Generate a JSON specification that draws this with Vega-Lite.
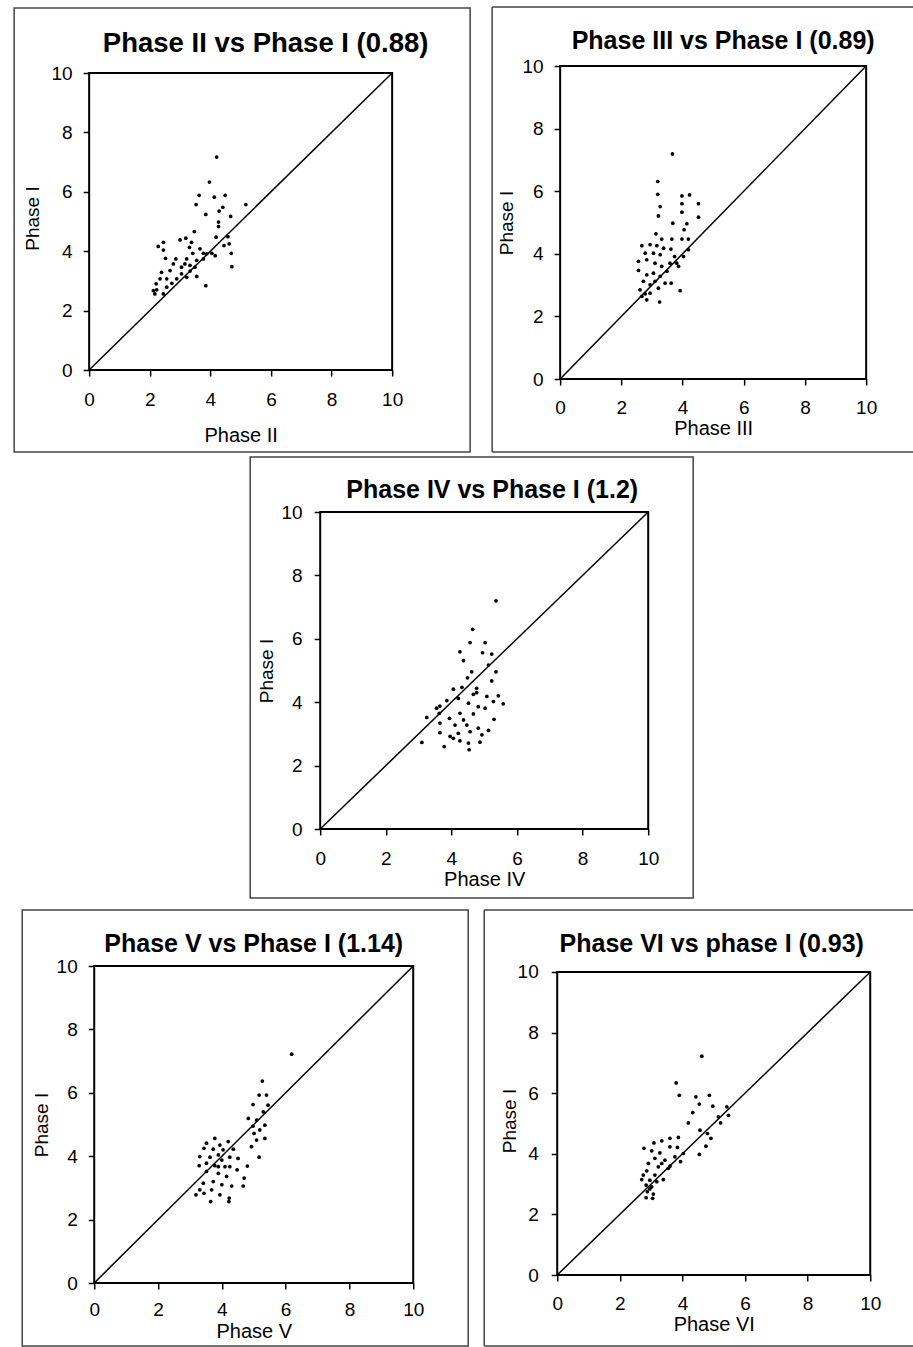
{
  "$schema": "https://vega.github.io/schema/vega-lite/v6.json",
  "padding": {"left": 13, "top": 5, "right": 0, "bottom": 0},
  "background": "white",
  "spacing": 1,
  "center": true,
  "datasets": {
    "p2": [{"x":4.21,"y":7.17},{"x":3.97,"y":6.33},{"x":3.63,"y":5.88},{"x":4.13,"y":5.82},{"x":4.49,"y":5.88},{"x":3.53,"y":5.57},{"x":5.17,"y":5.57},{"x":3.85,"y":5.24},{"x":4.41,"y":5.48},{"x":4.29,"y":5.35},{"x":4.67,"y":5.17},{"x":4.27,"y":4.98},{"x":4.27,"y":4.83},{"x":3.47,"y":4.66},{"x":4.19,"y":4.47},{"x":4.58,"y":4.49},{"x":4.62,"y":4.25},{"x":4.45,"y":4.19},{"x":4.69,"y":3.93},{"x":4.71,"y":3.48},{"x":3.85,"y":2.84},{"x":2.28,"y":4.16},{"x":2.45,"y":4.30},{"x":2.45,"y":4.04},{"x":2.52,"y":3.76},{"x":3.0,"y":4.38},{"x":3.19,"y":4.44},{"x":3.38,"y":4.30},{"x":3.31,"y":4.13},{"x":3.42,"y":3.93},{"x":3.66,"y":4.08},{"x":3.77,"y":3.93},{"x":4.05,"y":3.93},{"x":4.16,"y":3.85},{"x":3.22,"y":3.74},{"x":3.16,"y":3.57},{"x":3.05,"y":3.46},{"x":2.78,"y":3.57},{"x":2.86,"y":3.74},{"x":2.67,"y":3.35},{"x":2.39,"y":3.29},{"x":2.34,"y":3.07},{"x":2.21,"y":2.90},{"x":2.23,"y":2.70},{"x":2.45,"y":2.56},{"x":2.56,"y":2.79},{"x":2.73,"y":2.92},{"x":2.89,"y":3.07},{"x":3.05,"y":3.24},{"x":3.22,"y":3.12},{"x":3.33,"y":3.33},{"x":3.49,"y":3.46},{"x":3.55,"y":3.69},{"x":3.33,"y":3.52},{"x":2.56,"y":3.07},{"x":2.12,"y":2.67},{"x":2.17,"y":2.56},{"x":3.55,"y":3.15},{"x":3.77,"y":3.74},{"x":3.88,"y":3.91}],
    "p3": [{"x":3.67,"y":7.19},{"x":3.19,"y":6.31},{"x":3.19,"y":5.90},{"x":3.27,"y":5.51},{"x":3.21,"y":5.21},{"x":3.98,"y":5.85},{"x":4.23,"y":5.88},{"x":3.98,"y":5.60},{"x":3.98,"y":5.33},{"x":4.52,"y":5.60},{"x":4.52,"y":5.17},{"x":3.68,"y":4.98},{"x":4.14,"y":4.96},{"x":4.05,"y":4.77},{"x":3.13,"y":4.64},{"x":3.32,"y":4.47},{"x":3.65,"y":4.47},{"x":3.98,"y":4.47},{"x":4.19,"y":4.47},{"x":2.67,"y":4.26},{"x":2.94,"y":4.29},{"x":3.16,"y":4.26},{"x":3.38,"y":4.18},{"x":3.62,"y":4.15},{"x":2.78,"y":4.02},{"x":3.05,"y":4.02},{"x":3.27,"y":3.97},{"x":3.74,"y":3.91},{"x":4.03,"y":3.91},{"x":4.19,"y":4.13},{"x":2.56,"y":3.76},{"x":2.83,"y":3.81},{"x":3.10,"y":3.70},{"x":3.32,"y":3.60},{"x":3.59,"y":3.70},{"x":3.87,"y":3.60},{"x":2.56,"y":3.47},{"x":2.83,"y":3.33},{"x":3.05,"y":3.38},{"x":3.27,"y":3.28},{"x":3.43,"y":3.06},{"x":3.63,"y":3.06},{"x":2.72,"y":3.12},{"x":2.94,"y":3.01},{"x":3.21,"y":2.90},{"x":2.61,"y":2.85},{"x":2.78,"y":2.72},{"x":2.67,"y":2.64},{"x":2.83,"y":2.53},{"x":3.25,"y":2.46},{"x":3.92,"y":2.82},{"x":2.94,"y":2.74},{"x":3.10,"y":3.12},{"x":3.81,"y":3.70},{"x":3.49,"y":3.44}],
    "p4": [{"x":5.36,"y":7.20},{"x":4.65,"y":6.30},{"x":4.57,"y":5.88},{"x":5.03,"y":5.88},{"x":4.26,"y":5.59},{"x":4.95,"y":5.56},{"x":5.23,"y":5.52},{"x":4.37,"y":5.31},{"x":5.13,"y":5.17},{"x":4.62,"y":4.96},{"x":5.36,"y":4.96},{"x":4.49,"y":4.77},{"x":5.23,"y":4.67},{"x":4.06,"y":4.41},{"x":4.32,"y":4.47},{"x":4.77,"y":4.44},{"x":4.67,"y":4.25},{"x":5.08,"y":4.18},{"x":5.43,"y":4.20},{"x":5.58,"y":3.95},{"x":5.28,"y":4.02},{"x":3.65,"y":3.88},{"x":3.55,"y":3.81},{"x":3.86,"y":4.05},{"x":4.21,"y":4.12},{"x":4.52,"y":3.97},{"x":4.82,"y":3.86},{"x":5.03,"y":3.81},{"x":3.25,"y":3.52},{"x":3.63,"y":3.65},{"x":3.94,"y":3.49},{"x":4.26,"y":3.65},{"x":4.67,"y":3.63},{"x":5.30,"y":3.46},{"x":3.65,"y":3.34},{"x":4.11,"y":3.28},{"x":4.47,"y":3.28},{"x":4.82,"y":3.18},{"x":3.65,"y":3.04},{"x":3.96,"y":2.92},{"x":4.21,"y":3.02},{"x":4.57,"y":3.07},{"x":4.93,"y":2.97},{"x":5.13,"y":3.11},{"x":3.10,"y":2.73},{"x":3.78,"y":2.60},{"x":4.26,"y":2.78},{"x":4.52,"y":2.71},{"x":4.87,"y":2.74},{"x":4.54,"y":2.50},{"x":4.06,"y":2.86},{"x":4.37,"y":3.44},{"x":4.77,"y":4.30}],
    "p5": [{"x":6.19,"y":7.22},{"x":5.27,"y":6.37},{"x":5.17,"y":5.93},{"x":5.40,"y":5.93},{"x":4.98,"y":5.63},{"x":5.45,"y":5.61},{"x":5.30,"y":5.40},{"x":4.83,"y":5.19},{"x":5.09,"y":5.14},{"x":4.98,"y":4.95},{"x":5.35,"y":4.98},{"x":5.01,"y":4.72},{"x":5.19,"y":4.83},{"x":5.35,"y":4.56},{"x":5.09,"y":4.51},{"x":4.93,"y":4.30},{"x":5.17,"y":3.97},{"x":3.78,"y":4.56},{"x":3.52,"y":4.41},{"x":3.94,"y":4.35},{"x":4.20,"y":4.46},{"x":3.44,"y":4.25},{"x":3.73,"y":4.22},{"x":4.04,"y":4.20},{"x":4.36,"y":4.22},{"x":3.31,"y":3.99},{"x":3.63,"y":3.97},{"x":3.89,"y":4.04},{"x":4.25,"y":3.97},{"x":4.51,"y":3.93},{"x":3.29,"y":3.70},{"x":3.52,"y":3.78},{"x":3.78,"y":3.70},{"x":4.10,"y":3.67},{"x":4.48,"y":3.57},{"x":4.80,"y":3.69},{"x":3.52,"y":3.52},{"x":3.89,"y":3.46},{"x":4.15,"y":3.36},{"x":4.70,"y":3.31},{"x":3.42,"y":3.15},{"x":3.73,"y":3.20},{"x":4.00,"y":3.10},{"x":4.31,"y":3.06},{"x":4.67,"y":3.06},{"x":3.19,"y":2.78},{"x":3.44,"y":2.83},{"x":3.68,"y":2.94},{"x":3.94,"y":2.78},{"x":4.23,"y":2.68},{"x":3.65,"y":2.57},{"x":4.22,"y":2.57},{"x":3.31,"y":2.94},{"x":3.89,"y":3.67},{"x":4.00,"y":3.88},{"x":4.25,"y":3.67}],
    "p6": [{"x":4.62,"y":7.22},{"x":3.80,"y":6.34},{"x":3.90,"y":5.93},{"x":4.43,"y":5.88},{"x":4.86,"y":5.93},{"x":4.54,"y":5.64},{"x":4.97,"y":5.57},{"x":4.33,"y":5.36},{"x":4.19,"y":5.02},{"x":5.42,"y":5.55},{"x":5.47,"y":5.27},{"x":5.22,"y":5.02},{"x":5.15,"y":5.22},{"x":4.56,"y":4.78},{"x":4.80,"y":4.67},{"x":4.91,"y":4.51},{"x":4.75,"y":4.25},{"x":4.54,"y":3.98},{"x":4.03,"y":4.01},{"x":3.94,"y":3.74},{"x":3.60,"y":4.51},{"x":3.87,"y":4.54},{"x":3.34,"y":4.43},{"x":3.09,"y":4.36},{"x":3.60,"y":4.23},{"x":3.84,"y":4.21},{"x":2.77,"y":4.18},{"x":3.02,"y":4.10},{"x":3.28,"y":4.03},{"x":3.12,"y":3.85},{"x":3.44,"y":3.79},{"x":3.76,"y":3.90},{"x":2.91,"y":3.68},{"x":3.23,"y":3.57},{"x":3.55,"y":3.52},{"x":2.86,"y":3.44},{"x":3.12,"y":3.30},{"x":3.39,"y":3.15},{"x":2.70,"y":3.15},{"x":2.96,"y":3.13},{"x":2.84,"y":2.97},{"x":3.02,"y":2.91},{"x":2.88,"y":2.75},{"x":3.07,"y":2.67},{"x":2.84,"y":2.55},{"x":3.05,"y":2.53},{"x":3.60,"y":3.59},{"x":3.34,"y":3.68},{"x":3.18,"y":3.08},{"x":2.96,"y":2.84},{"x":2.75,"y":3.30}],
    "diag": [{"v":0},{"v":10}]
  },
  "vconcat": [
    {
      "spacing": 19,
      "hconcat": [
        {
          "width": 303, "height": 304,
          "view": {"stroke": null},
          "title": {"text": "Phase II vs Phase I (0.88)", "fontSize": 27.5, "dx": 25, "offset": -50},
          "layer": [
            {"data": {"values": [{}]}, "mark": {"type": "rect", "filled": false, "stroke": "#444", "strokeWidth": 1.5},
             "encoding": {"x": {"datum": -2.475, "type": "quantitative", "scale": {"domain": [0, 10], "nice": false}}, "x2": {"datum": 12.574}, "y": {"datum": -2.761, "type": "quantitative", "scale": {"domain": [0, 10.236], "nice": false}}, "y2": {"datum": 12.189}}},
            {"data": {"values": [{}]}, "mark": {"type": "rect", "filled": false, "stroke": "black", "strokeWidth": 2},
             "encoding": {"x": {"datum": 0, "type": "quantitative"}, "x2": {"datum": 10}, "y": {"datum": 0, "type": "quantitative"}, "y2": {"datum": 10}}},
            {"data": {"name": "diag"}, "mark": {"type": "line", "color": "black", "strokeWidth": 1.5},
             "encoding": {"x": {"field": "v", "type": "quantitative"}, "y": {"field": "v", "type": "quantitative"}}},
            {"data": {"name": "p2"}, "mark": {"type": "circle", "size": 14, "color": "black", "opacity": 1},
             "encoding": {
               "x": {"field": "x", "type": "quantitative", "scale": {"domain": [0, 10], "nice": false}, "axis": {"title": "Phase II", "values": [0,2,4,6,8,10], "labelPadding": 14, "titlePadding": 16}},
               "y": {"field": "y", "type": "quantitative", "scale": {"domain": [0, 10.236], "nice": false}, "axis": {"title": "Phase I", "values": [0,2,4,6,8,10], "labelPadding": 11, "titlePadding": 9}}}}
          ]
        },
        {
          "width": 306, "height": 313,
          "title": {"text": "Phase III vs Phase I (0.89)", "fontSize": 25, "dx": 10, "offset": -48},
          "layer": [
            {"data": {"values": [{}]}, "mark": {"type": "rule", "stroke": "#444", "strokeWidth": 1.5},
             "encoding": {"x": {"datum": -2.222, "type": "quantitative", "scale": {"domain": [0, 10], "nice": false}}, "x2": {"datum": 11.894}, "y": {"datum": 11.885, "type": "quantitative", "scale": {"domain": [0, 10], "nice": false}}}},
            {"data": {"values": [{}]}, "mark": {"type": "rule", "stroke": "#444", "strokeWidth": 1.5},
             "encoding": {"x": {"datum": -2.222, "type": "quantitative"}, "x2": {"datum": 11.894}, "y": {"datum": -2.332, "type": "quantitative"}}},
            {"data": {"values": [{}]}, "mark": {"type": "rule", "stroke": "#444", "strokeWidth": 1.5},
             "encoding": {"x": {"datum": -2.222, "type": "quantitative"}, "y": {"datum": -2.332, "type": "quantitative"}, "y2": {"datum": 11.885}}},
            {"data": {"name": "diag"}, "mark": {"type": "line", "color": "black", "strokeWidth": 1.5},
             "encoding": {"x": {"field": "v", "type": "quantitative"}, "y": {"field": "v", "type": "quantitative"}}},
            {"data": {"name": "p3"}, "mark": {"type": "circle", "size": 14, "color": "black", "opacity": 1},
             "encoding": {
               "x": {"field": "x", "type": "quantitative", "scale": {"domain": [0, 10], "nice": false}, "axis": {"title": "Phase III", "values": [0,2,4,6,8,10], "labelPadding": 13, "titlePadding": 1}},
               "y": {"field": "y", "type": "quantitative", "scale": {"domain": [0, 10], "nice": false}, "axis": {"title": "Phase I", "values": [0,2,4,6,8,10], "labelPadding": 11, "titlePadding": 6}}}}
          ]
        }
      ]
    },
    {
      "spacing": 8,
      "center": true,
      "vconcat": [
        {
          "width": 328, "height": 317,
          "title": {"text": "Phase IV vs Phase I (1.2)", "fontSize": 25, "dx": 8, "offset": -47},
          "layer": [
            {"data": {"values": [{}]}, "mark": {"type": "rect", "filled": false, "stroke": "#444", "strokeWidth": 1.5},
             "encoding": {"x": {"datum": -2.134, "type": "quantitative", "scale": {"domain": [0, 10], "nice": false}}, "x2": {"datum": 11.372}, "y": {"datum": -2.177, "type": "quantitative", "scale": {"domain": [0, 10], "nice": false}}, "y2": {"datum": 11.735}}},
            {"data": {"name": "diag"}, "mark": {"type": "line", "color": "black", "strokeWidth": 1.5},
             "encoding": {"x": {"field": "v", "type": "quantitative"}, "y": {"field": "v", "type": "quantitative"}}},
            {"data": {"name": "p4"}, "mark": {"type": "circle", "size": 14, "color": "black", "opacity": 1},
             "encoding": {
               "x": {"field": "x", "type": "quantitative", "scale": {"domain": [0, 10], "nice": false}, "axis": {"title": "Phase IV", "values": [0,2,4,6,8,10], "labelPadding": 14, "titlePadding": 1}},
               "y": {"field": "y", "type": "quantitative", "scale": {"domain": [0, 10], "nice": false}, "axis": {"title": "Phase I", "values": [0,2,4,6,8,10], "labelPadding": 12, "titlePadding": 5}}}}
          ]
        },
        {
          "spacing": 13,
          "hconcat": [
            {
              "width": 319, "height": 317,
              "title": {"text": "Phase V vs Phase I (1.14)", "fontSize": 25, "dx": 0, "offset": -48},
              "layer": [
                {"data": {"values": [{}]}, "mark": {"type": "rect", "filled": false, "stroke": "#444", "strokeWidth": 1.5},
                 "encoding": {"x": {"datum": -2.257, "type": "quantitative", "scale": {"domain": [0, 10], "nice": false}}, "x2": {"datum": 11.724}, "y": {"datum": -1.987, "type": "quantitative", "scale": {"domain": [0, 10], "nice": false}}, "y2": {"datum": 11.767}}},
                {"data": {"name": "diag"}, "mark": {"type": "line", "color": "black", "strokeWidth": 1.5},
                 "encoding": {"x": {"field": "v", "type": "quantitative"}, "y": {"field": "v", "type": "quantitative"}}},
                {"data": {"name": "p5"}, "mark": {"type": "circle", "size": 14, "color": "black", "opacity": 1},
                 "encoding": {
                   "x": {"field": "x", "type": "quantitative", "scale": {"domain": [0, 10], "nice": false}, "axis": {"title": "Phase V", "values": [0,2,4,6,8,10], "labelPadding": 11, "titlePadding": 2}},
                   "y": {"field": "y", "type": "quantitative", "scale": {"domain": [0, 10], "nice": false}, "axis": {"title": "Phase I", "values": [0,2,4,6,8,10], "labelPadding": 11, "titlePadding": 5}}}}
              ]
            },
            {
              "width": 313, "height": 309,
              "view": {"stroke": null},
              "title": {"text": "Phase VI vs phase I (0.93)", "fontSize": 25, "dx": -2, "offset": -48},
              "layer": [
                {"data": {"values": [{}]}, "mark": {"type": "rule", "stroke": "#444", "strokeWidth": 1.5},
                 "encoding": {"x": {"datum": -2.332, "type": "quantitative", "scale": {"domain": [0, 10], "nice": false}}, "x2": {"datum": 11.596}, "y": {"datum": 12.046, "type": "quantitative", "scale": {"domain": [0, 10.198], "nice": false}}}},
                {"data": {"values": [{}]}, "mark": {"type": "rule", "stroke": "#444", "strokeWidth": 1.5},
                 "encoding": {"x": {"datum": -2.332, "type": "quantitative"}, "x2": {"datum": 11.596}, "y": {"datum": -2.343, "type": "quantitative"}}},
                {"data": {"values": [{}]}, "mark": {"type": "rule", "stroke": "#444", "strokeWidth": 1.5},
                 "encoding": {"x": {"datum": -2.332, "type": "quantitative"}, "y": {"datum": -2.343, "type": "quantitative"}, "y2": {"datum": 12.046}}},
                {"data": {"values": [{}]}, "mark": {"type": "rect", "filled": false, "stroke": "black", "strokeWidth": 2},
                 "encoding": {"x": {"datum": 0, "type": "quantitative"}, "x2": {"datum": 10}, "y": {"datum": 0, "type": "quantitative"}, "y2": {"datum": 10}}},
                {"data": {"name": "diag"}, "mark": {"type": "line", "color": "black", "strokeWidth": 1.5},
                 "encoding": {"x": {"field": "v", "type": "quantitative"}, "y": {"field": "v", "type": "quantitative"}}},
                {"data": {"name": "p6"}, "mark": {"type": "circle", "size": 14, "color": "black", "opacity": 1},
                 "encoding": {
                   "x": {"field": "x", "type": "quantitative", "scale": {"domain": [0, 10], "nice": false}, "axis": {"title": "Phase VI", "values": [0,2,4,6,8,10], "labelPadding": 13, "titlePadding": 1}},
                   "y": {"field": "y", "type": "quantitative", "scale": {"domain": [0, 10.198], "nice": false}, "axis": {"title": "Phase I", "values": [0,2,4,6,8,10], "labelPadding": 13, "titlePadding": -2}}}}
              ]
            }
          ]
        }
      ]
    }
  ],
  "config": {
    "font": "Liberation Sans",
    "view": {"stroke": "black", "strokeWidth": 2},
    "axis": {"grid": false, "domain": false, "tickColor": "black", "tickSize": 6, "tickWidth": 1.5, "labelColor": "black", "titleColor": "black", "labelFontSize": 19, "titleFontSize": 20, "titleFontWeight": "normal", "labelFlush": false, "labelFont": "Liberation Sans", "titleFont": "Liberation Sans"},
    "axisY": {"titleFontSize": 19},
    "title": {"font": "Liberation Sans", "fontWeight": "bold", "color": "black", "anchor": "middle", "frame": "group"}
  }
}
